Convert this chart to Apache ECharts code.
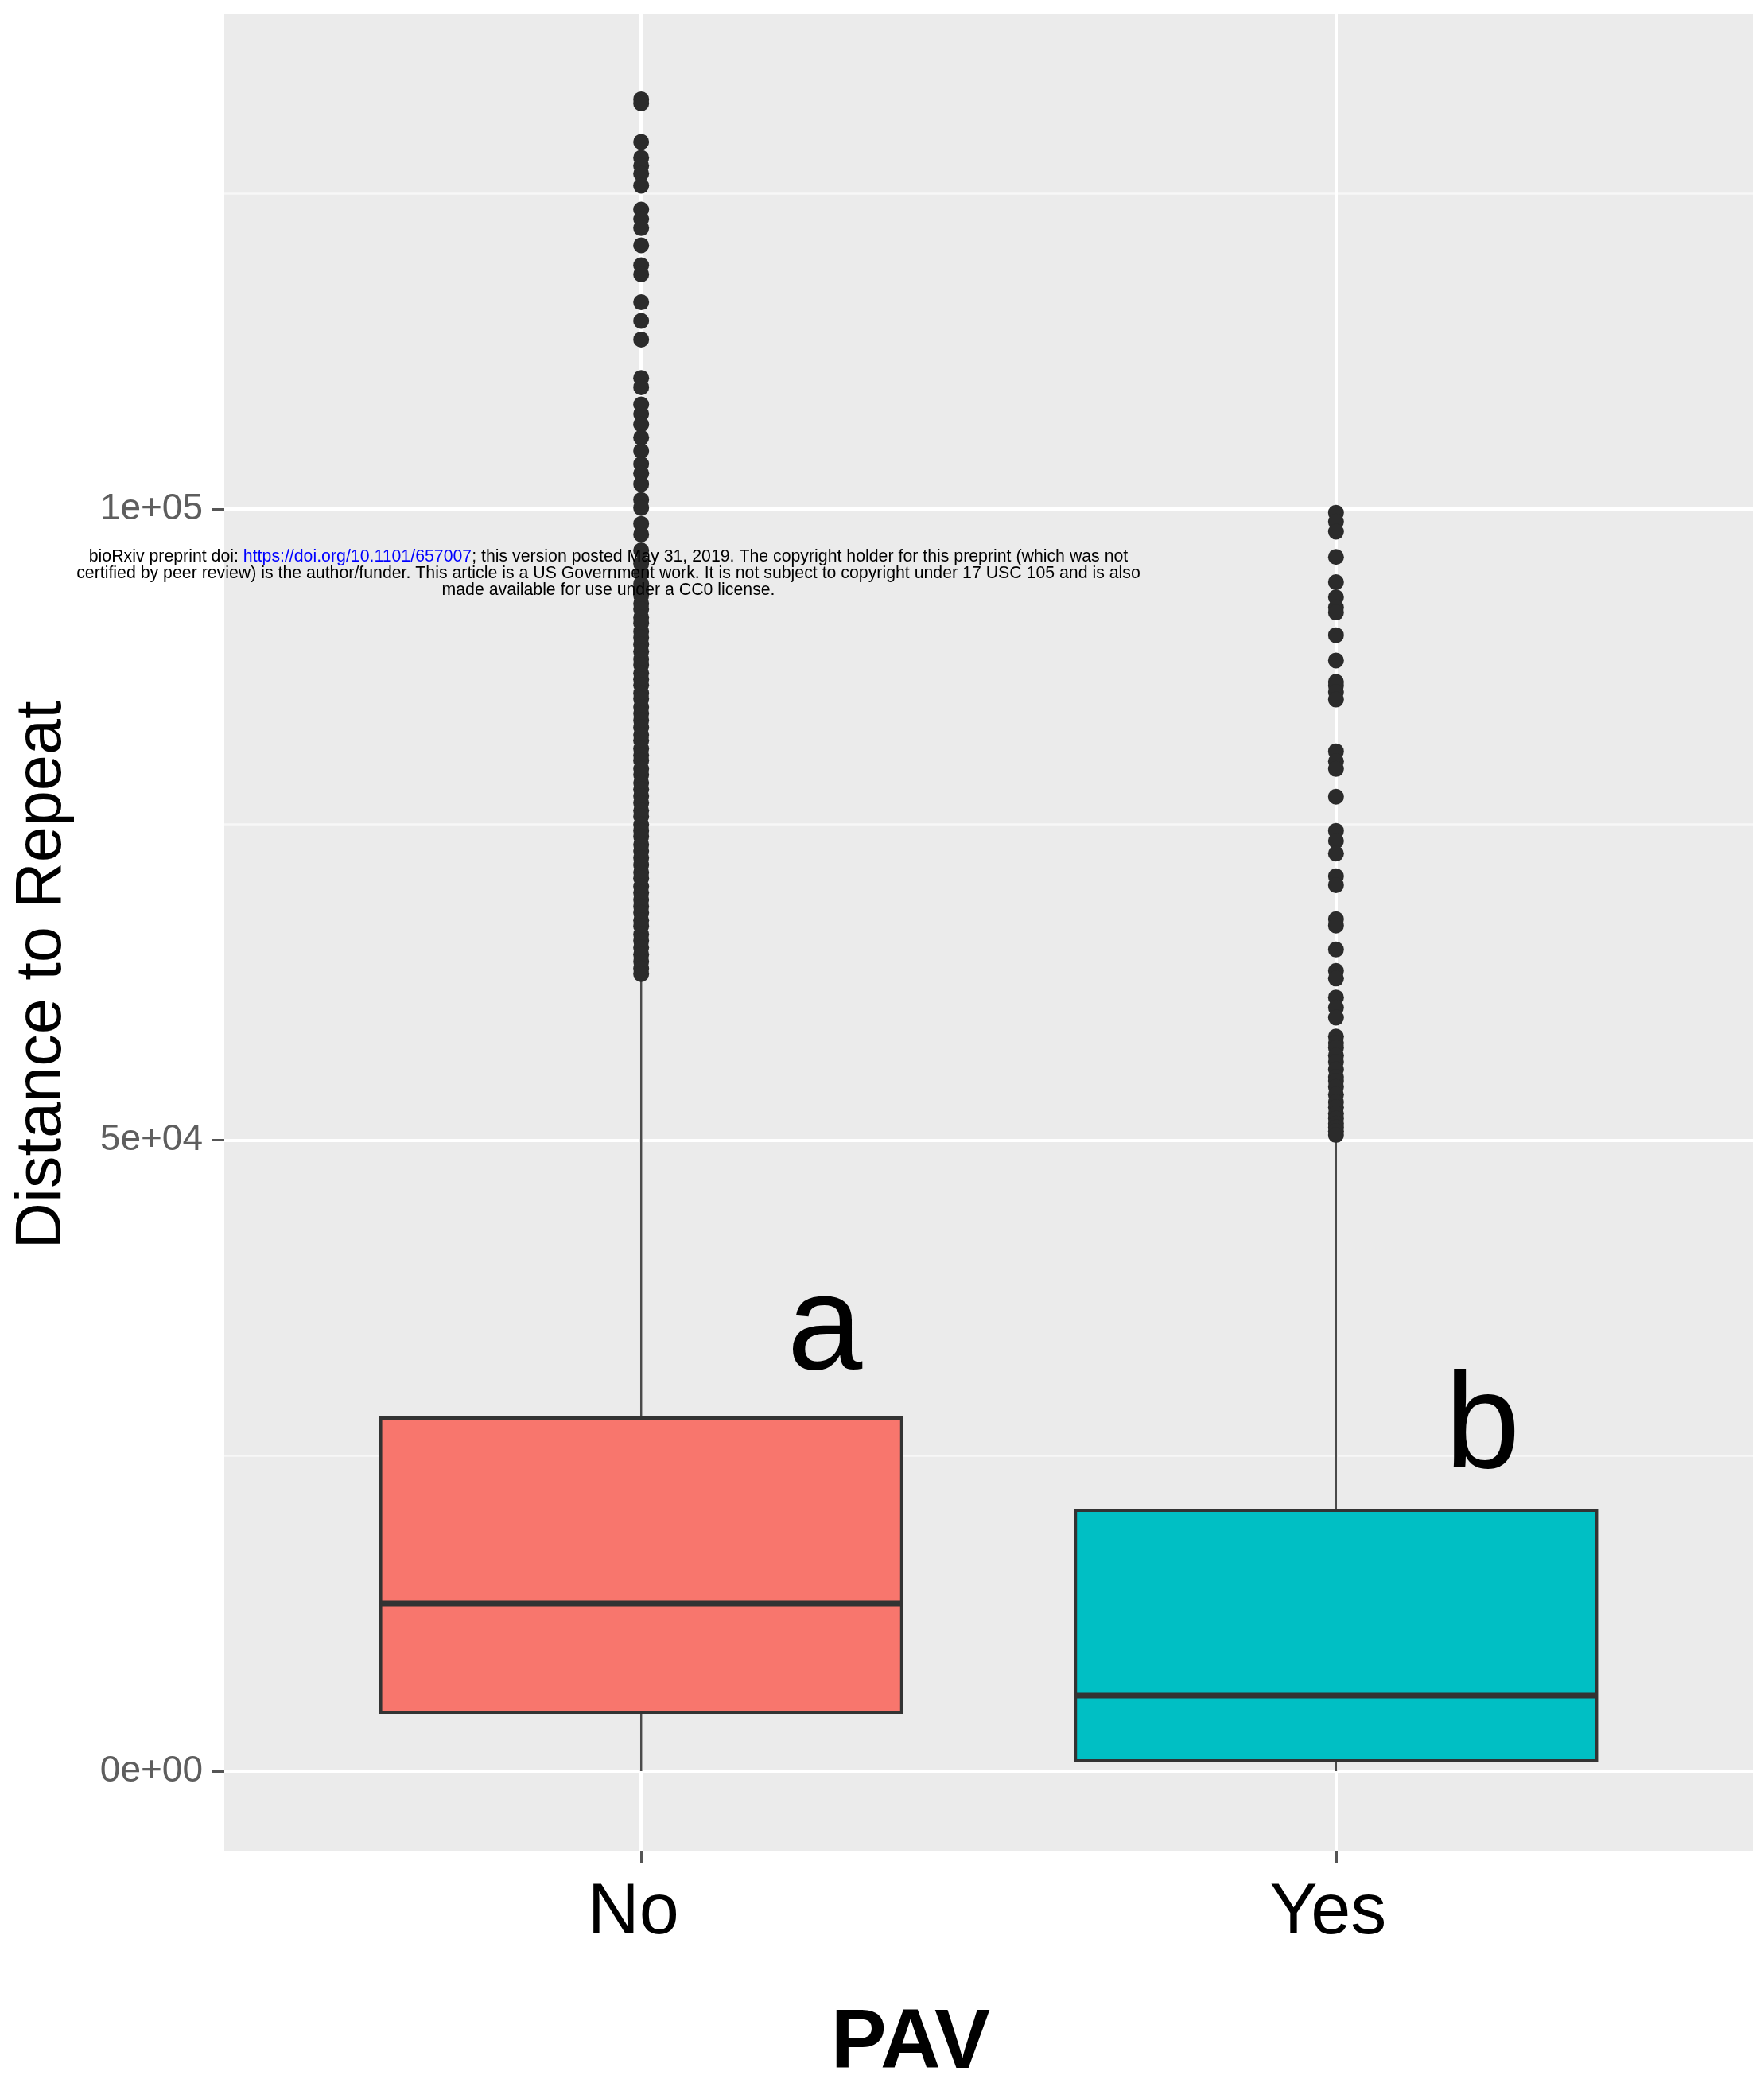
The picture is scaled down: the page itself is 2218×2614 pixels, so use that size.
<!DOCTYPE html>
<html>
<head>
<meta charset="utf-8">
<script src="https://cdn.jsdelivr.net/npm/echarts@6/dist/echarts.min.js"></script>
<style>
  html, body { margin: 0; padding: 0; background: #ffffff; }
  #chart { width: 2218px; height: 2614px; }
</style>
</head>
<body>
<div id="chart"></div>
<script>
// Categories (PAV status) and their x positions on a discrete scale
const categories = ['No', 'Yes'];
const categoryPos = [1, 2];

// Five-number summaries: [lower whisker, Q1, median, Q3, upper whisker]
const statsNo  = [0, 4660, 13300, 27980, 62900];
const statsYes = [0, 820, 5990, 20670, 50300];

// Points beyond the whiskers
const outliersNo = [
  132450, 132130, 129080, 127820, 127190, 126560, 125610, 123720, 122990, 122250,
  120890, 119310, 118580, 116370, 114900, 113420, 110380, 109640, 108280, 107540,
  106700, 105650, 104600, 103550, 102810, 101970, 100710, 100080, 98820, 97980,
  96720, 95670, 94930, 94080, 93600, 93150, 92500, 92050, 91400, 90950,
  90300, 89800, 89250, 88700, 88100, 87650, 87000, 86500, 86050, 85400,
  84950, 84300, 83800, 83250, 82700, 82100, 81650, 81000, 80500, 80050,
  79400, 78950, 78300, 77800, 77250, 76700, 76100, 75650, 75000, 74500,
  74050, 73400, 72900, 72350, 71800, 71200, 70750, 70100, 69600, 69050,
  68500, 68000, 67400, 66950, 66300, 65800, 65250, 64700, 64150, 63600, 63150
];
const outliersYes = [
  99700, 99000, 98200, 96200, 94200, 93000, 92200, 91800, 90000, 88000,
  86300, 86000, 85500, 84900, 80800, 80000, 79400, 77200, 74500, 73700,
  72700, 70900, 70200, 67500, 67000, 65100, 63400, 62800, 61300, 60500,
  59700, 58200, 57700, 57300, 56700, 56200, 55600, 55000, 54700, 54200,
  53600, 53000, 52600, 52100, 51700, 51300, 51000, 50700, 50400
];

// Axis ticks and labels
const yTickValues = [0, 50000, 100000];
const yTickLabels = ['0e+00', '5e+04', '1e+05'];
const yMinorValues = [25000, 75000, 125000];

// Significance letters placed above each box
const letterNames = ['a', 'b'];

const fills = ['#F8766D', '#00BFC4'];
const BOX_WIDTH = 0.75;
const INK = '#333333';

const boxData = [
  [categoryPos[0]].concat(statsNo),
  [categoryPos[1]].concat(statsYes)
];
const pointData = outliersNo.map(v => [categoryPos[0], v])
  .concat(outliersYes.map(v => [categoryPos[1], v]));

const chart = echarts.init(document.getElementById('chart'), null, { renderer: 'canvas' });

const font = "'Liberation Sans', Arial, sans-serif";

chart.setOption({
  animation: false,
  backgroundColor: '#ffffff',
  grid: {
    left: 282, right: 14, top: 17, bottom: 287,
    show: true, backgroundColor: '#EBEBEB', borderWidth: 0
  },
  xAxis: {
    type: 'value',
    min: 0.4, max: 2.6,
    axisLine: { show: false, onZero: false },
    axisTick: { show: true, customValues: categoryPos, length: 15, lineStyle: { color: '#555555', width: 3 } },
    axisLabel: {
      customValues: categoryPos,
      formatter: v => categories[Math.round(v) - 1],
      fontFamily: font, fontSize: 90, color: '#000000', margin: 34,
      padding: [0, 20, 0, 0]
    },
    splitLine: { show: true, lineStyle: { color: '#ffffff', width: 4 } }
  },
  yAxis: [
    {
      type: 'value',
      min: -6300, max: 139250,
      axisLine: { show: false, onZero: false },
      axisTick: { show: true, customValues: yTickValues, length: 15, lineStyle: { color: '#555555', width: 3 } },
      axisLabel: {
        customValues: yTickValues,
        formatter: v => yTickLabels[yTickValues.indexOf(v)],
        fontFamily: font, fontSize: 46, color: '#5e5e5e', margin: 27
      },
      splitLine: { show: true, lineStyle: { color: '#ffffff', width: 4 } }
    },
    {
      type: 'value',
      min: -6300, max: 139250,
      position: 'left',
      axisLine: { show: false, onZero: false },
      axisTick: { show: false, customValues: yMinorValues },
      axisLabel: { show: false, customValues: yMinorValues },
      splitLine: { show: true, lineStyle: { color: '#F7F7F7', width: 2.5 } }
    }
  ],
  series: [
    {
      type: 'custom',
      name: 'box',
      xAxisIndex: 0, yAxisIndex: 0,
      dimensions: ['pos', 'min', 'Q1', 'median', 'Q3', 'max'],
      encode: { x: 0, y: [1, 2, 3, 4, 5] },
      data: boxData,
      z: 2,
      renderItem: function (params, api) {
        const x = api.value(0);
        const pMin = api.coord([x, api.value(1)]);
        const pQ1 = api.coord([x, api.value(2)]);
        const pMed = api.coord([x, api.value(3)]);
        const pQ3 = api.coord([x, api.value(4)]);
        const pMax = api.coord([x, api.value(5)]);
        const w = api.size([BOX_WIDTH, 0])[0];
        const cx = pMed[0];
        return {
          type: 'group',
          children: [
            { type: 'line', shape: { x1: cx, y1: pMin[1], x2: cx, y2: pQ1[1] },
              style: { stroke: '#4a4a4a', lineWidth: 2.6 } },
            { type: 'line', shape: { x1: cx, y1: pQ3[1], x2: cx, y2: pMax[1] },
              style: { stroke: '#4a4a4a', lineWidth: 2.6 } },
            { type: 'rect', shape: { x: cx - w / 2, y: pQ3[1], width: w, height: pQ1[1] - pQ3[1] },
              style: { fill: fills[params.dataIndex], stroke: INK, lineWidth: 4 } },
            { type: 'line', shape: { x1: cx - w / 2, y1: pMed[1], x2: cx + w / 2, y2: pMed[1] },
              style: { stroke: INK, lineWidth: 7 } }
          ]
        };
      }
    },
    {
      type: 'scatter',
      name: 'outliers',
      xAxisIndex: 0, yAxisIndex: 0,
      data: pointData,
      symbol: 'circle',
      symbolSize: 20,
      itemStyle: { color: '#2b2b2b', opacity: 1 },
      z: 3
    }
  ],
  graphic: [
    {
      type: 'text', x: 54, y: 1226, rotation: Math.PI / 2,
      style: { text: 'Distance to Repeat', fontFamily: font, fontSize: 81, fill: '#000000',
               align: 'center', verticalAlign: 'middle' }
    },
    {
      type: 'text', x: 1145, y: 2571,
      style: { text: 'PAV', fontFamily: font, fontSize: 105, fontWeight: 'bold', fill: '#000000',
               align: 'center', verticalAlign: 'middle' }
    },
    {
      type: 'text', x: 1037, y: 1674, z: 10,
      style: { text: letterNames[0], fontFamily: font, fontSize: 170, fill: '#000000',
               align: 'center', verticalAlign: 'middle' }
    },
    {
      type: 'text', x: 1864, y: 1798, z: 10,
      style: { text: letterNames[1], fontFamily: font, fontSize: 170, fill: '#000000',
               align: 'center', verticalAlign: 'middle' }
    },
    {
      type: 'text', x: 765, y: 700, z: 100,
      style: {
        text: '{n|bioRxiv preprint doi: }{l|https://doi.org/10.1101/657007}{n|; this version posted May 31, 2019. The copyright holder for this preprint (which was not}',
        align: 'center', verticalAlign: 'middle',
        rich: {
          n: { fontFamily: font, fontSize: 21.3, fill: '#000000' },
          l: { fontFamily: font, fontSize: 21.3, fill: '#0000FF' }
        }
      }
    },
    {
      type: 'text', x: 765, y: 721, z: 100,
      style: { text: 'certified by peer review) is the author/funder. This article is a US Government work. It is not subject to copyright under 17 USC 105 and is also',
               fontFamily: font, fontSize: 21.3, fill: '#000000', align: 'center', verticalAlign: 'middle' }
    },
    {
      type: 'text', x: 765, y: 742, z: 100,
      style: { text: 'made available for use under a CC0 license.',
               fontFamily: font, fontSize: 21.3, fill: '#000000', align: 'center', verticalAlign: 'middle' }
    }
  ]
});
</script>
</body>
</html>
